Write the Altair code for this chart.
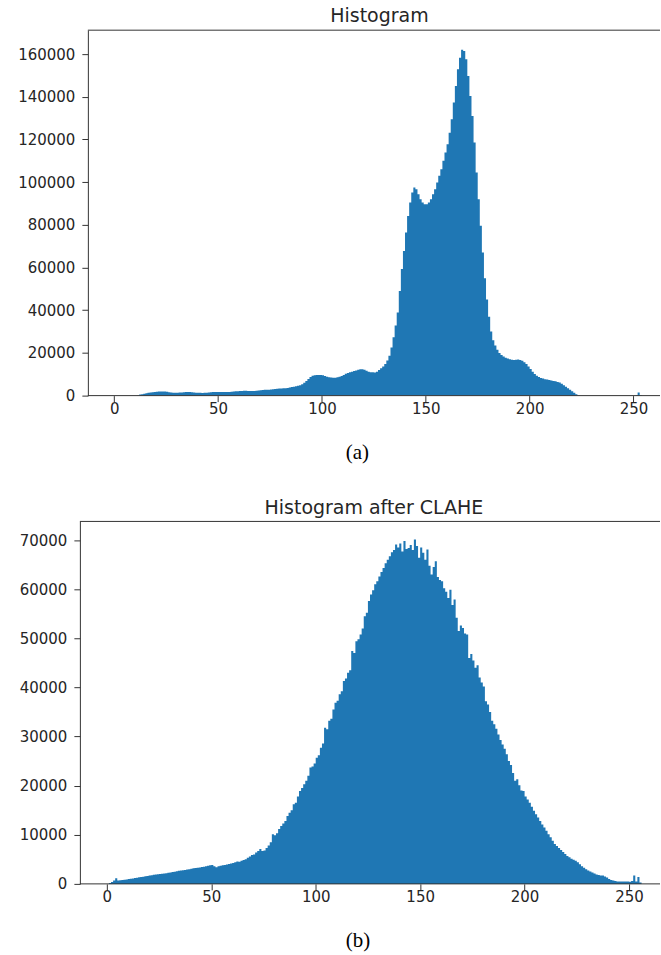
import altair as alt
import pandas as pd

# ---------------- data ----------------
bin_edges = list(range(257))          # 256 bins of width 1: [i, i+1)

counts_a = (
    [0] * 11
    + [200, 500, 700, 900, 1100, 1300, 1500, 1600, 1700, 1800]
    + [1900, 1900, 1900, 1900, 1800, 1600, 1500, 1400, 1400, 1400]
    + [1500, 1500, 1600, 1700, 1700, 1700, 1600, 1500, 1400, 1300]
    + [1300, 1250, 1300, 1400, 1500, 1600, 1700, 1700, 1700, 1700]
    + [1700, 1700, 1700, 1700, 1750, 1800, 1900, 2000, 2100, 2200]
    + [2200, 2300, 2300, 2200, 2200, 2200, 2200, 2300, 2400, 2500]
    + [2600, 2700, 2800, 2800, 2900, 3000, 3100, 3200, 3300, 3300]
    + [3400, 3500, 3600, 3800, 4000, 4200, 4400, 4600, 4900, 5300]
    + [6000, 6900, 7800, 8700, 9300, 9600, 9700, 9700, 9700, 9500]
    + [9200, 8800, 8600, 8500, 8400, 8400, 8600, 8900, 9200, 9700]
    + [10200, 10600, 11000, 11200, 11500, 11800, 12100, 12300, 12400, 12100]
    + [11700, 11200, 11000, 10900, 10800, 11200, 12000, 12800, 13700, 14800]
    + [16400, 18700, 22600, 27300, 32800, 39000, 49000, 59300, 67800, 76400]
    + [84200, 90500, 95200, 97500, 96700, 94400, 92000, 90500, 89700, 89700]
    + [90500, 92000, 94400, 96700, 99800, 103000, 106100, 110000, 113900, 117800]
    + [123200, 129500, 137300, 145100, 152900, 158300, 162000, 161500, 157600, 149800]
    + [140400, 131000, 118600, 104500, 92000, 79600, 67100, 55000, 45000, 37000]
    + [30000, 26000, 23500, 21500, 20000, 19000, 18300, 17800, 17400, 17000]
    + [16800, 16700, 16800, 16900, 16700, 16300, 15600, 14800, 13600, 12500]
    + [11200, 10100, 9300, 8700, 8300, 8000, 7700, 7500, 7300, 7100]
    + [6900, 6700, 6400, 6100, 5600, 4900, 4200, 3500, 2800, 2000]
    + [1300, 700, 200, 0, 0, 0, 0, 0, 0, 0]
    + [0] * 20
    + [300, 1500, 300, 0, 0]
)

counts_b = (
    [0, 200, 400, 700, 1150, 700, 750, 800, 850, 900, 1000]
    + [1050, 1100, 1200, 1250, 1350, 1400, 1450, 1550, 1600, 1700]
    + [1750, 1850, 1900, 1950, 2000, 2050, 2100, 2150, 2250, 2300]
    + [2400, 2450, 2550, 2650, 2700, 2800, 2850, 2950, 3000, 3100]
    + [3200, 3250, 3300, 3350, 3450, 3500, 3600, 3700, 3800, 3850]
    + [3600, 3400, 3600, 3700, 3800, 3850, 3950, 4050, 4150, 4250]
    + [4400, 4550, 4500, 4700, 4850, 5000, 5300, 5600, 5900, 6000]
    + [6400, 6700, 7100, 6700, 6800, 7300, 7800, 8500, 10100, 9900]
    + [10300, 11200, 11800, 12300, 12800, 13800, 14500, 15000, 16200, 16500]
    + [17800, 18900, 19500, 20300, 21000, 22000, 23700, 23900, 24500, 25700]
    + [26200, 27700, 28600, 31800, 31500, 33200, 33600, 35500, 36900, 37300]
    + [38600, 39200, 41300, 41800, 43000, 43500, 47400, 47000, 49400, 49800]
    + [50800, 52000, 54500, 55200, 57600, 58900, 59800, 61000, 61600, 62600]
    + [63500, 64300, 65300, 66000, 66700, 67500, 68000, 69100, 68500, 69300]
    + [67700, 69800, 68200, 68400, 69000, 68000, 70100, 68800, 66400, 68500]
    + [67400, 66000, 68100, 64800, 63000, 64500, 65700, 62500, 61900, 61600]
    + [60200, 59500, 58200, 59900, 56800, 57900, 54200, 51500, 52600, 52100]
    + [51000, 50800, 46000, 46800, 45500, 44000, 44500, 42000, 41000, 40200]
    + [37200, 36500, 35000, 33200, 32500, 31600, 30400, 29300, 28400, 27500]
    + [26400, 25000, 24200, 22600, 21000, 21300, 20100, 19000, 18900, 17800]
    + [17200, 16500, 15700, 14900, 14200, 13500, 12800, 12100, 11500, 10800]
    + [10100, 9500, 8800, 8100, 7700, 7300, 6900, 6500, 6100, 5700]
    + [5400, 5100, 4900, 4700, 4400, 4000, 3600, 3300, 3000, 2700]
    + [2500, 2300, 2100, 1900, 1800, 1700, 1700, 1500, 1300, 1000]
    + [800, 700, 600, 500, 500, 500, 480, 470, 460, 450]
    + [600, 1700, 500, 1400, 300]
)

assert len(counts_a) == 256 and len(counts_b) == 256

x_ticks = [0, 50, 100, 150, 200, 250]
y_ticks_a = [0, 20000, 40000, 60000, 80000, 100000, 120000, 140000, 160000]
y_ticks_b = [0, 10000, 20000, 30000, 40000, 50000, 60000, 70000]
titles = ["Histogram", "Histogram after CLAHE"]
captions = ["(a)", "(b)"]

# ---------------- styling ----------------
BLUE = "#1f77b4"
INK = "#262626"
LINE = "#333333"
FONT = "DejaVu Sans"
W = 581
EXT = 70


def panel(counts, ydom, yticks, title, caption, height, xdom, y_off,
          title_x, title_y, cap_x, cap_y):
    df = pd.DataFrame({"bin": bin_edges, "count": counts + [counts[-1]]})
    area = alt.Chart(df).mark_area(
        interpolate="step-after", color=BLUE, opacity=1
    ).encode(
        x=alt.X(
            "bin:Q",
            scale=alt.Scale(domain=xdom, nice=False, zero=False),
            axis=alt.Axis(
                values=x_ticks, format="d", domain=False, grid=False,
                tickSize=6, tickColor=LINE, tickWidth=1,
                labelFont=FONT, labelFontSize=15, labelColor=INK,
                labelPadding=0, title=None,
            ),
        ),
        y=alt.Y(
            "count:Q",
            scale=alt.Scale(domain=ydom, nice=False, zero=True),
            axis=alt.Axis(
                values=yticks, format="d", grid=False, offset=y_off,
                domain=True, domainColor=LINE, domainWidth=1,
                tickSize=6, tickColor=LINE, tickWidth=1,
                labelFont=FONT, labelFontSize=15, labelColor=INK,
                labelPadding=7, title=None,
                minExtent=EXT, maxExtent=EXT,
            ),
        ),
    )
    one = pd.DataFrame({"k": [0]})
    x_start = -y_off
    top = alt.Chart(one).mark_rule(color=LINE, strokeWidth=1).encode(
        x=alt.value(x_start), x2=alt.value(W), y=alt.value(0)
    )
    bottom = alt.Chart(one).mark_rule(color=LINE, strokeWidth=1).encode(
        x=alt.value(x_start), x2=alt.value(W), y=alt.value(height)
    )
    ttl = alt.Chart(pd.DataFrame({"title": [title]})).mark_text(
        font=FONT, fontSize=19, color=INK, align="center",
        baseline="alphabetic"
    ).encode(text="title:N", x=alt.value(title_x), y=alt.value(title_y))
    cap = alt.Chart(pd.DataFrame({"caption": [caption]})).mark_text(
        font="Liberation Serif", fontSize=21, color="black",
        align="center", baseline="alphabetic"
    ).encode(text="caption:N", x=alt.value(cap_x), y=alt.value(cap_y))

    return alt.layer(area, top, bottom, ttl, cap).properties(
        width=W, height=height
    )


pa = panel(counts_a, [0, 171228], y_ticks_a, titles[0], captions[0], 366,
           [-16.55, 262.77], -8, 300, -8.3, 278, 429)
pb = panel(counts_b, [0, 73800], y_ticks_b, titles[1], captions[1], 363,
           [-12.9, 264.83], 0, 294.5, -7.7, 278.5, 426)

chart = alt.vconcat(pa, pb, spacing=36).properties(
    padding={"left": 10, "top": 5.5, "right": 0, "bottom": 0},
    background="white",
).configure_view(stroke=None)

chart.save("out.html", embed_options={"renderer": "svg", "actions": False})
